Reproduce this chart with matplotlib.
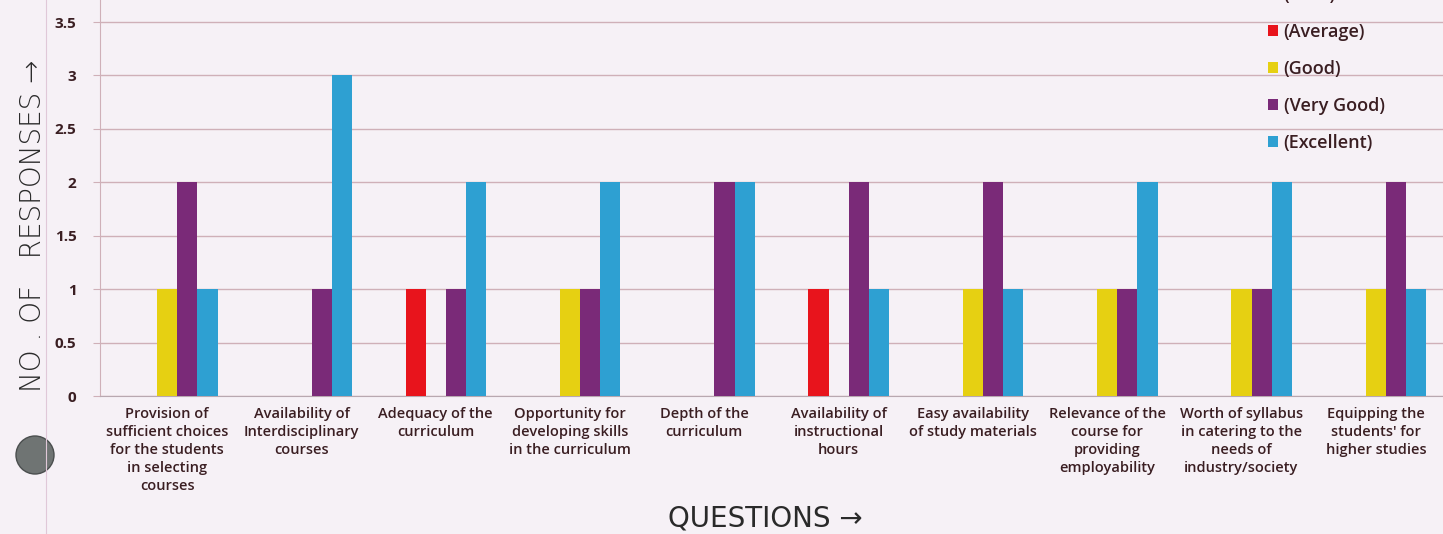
import numpy as np
import matplotlib.pyplot as plt
from matplotlib.patches import Ellipse
from matplotlib.lines import Line2D

questions = [
    'Provision of\nsufficient choices\nfor the students\nin selecting\ncourses',
    'Availability of\nInterdisciplinary\ncourses',
    'Adequacy of the\ncurriculum',
    'Opportunity for\ndeveloping skills\nin the curriculum',
    'Depth of the\ncurriculum',
    'Availability of\ninstructional\nhours',
    'Easy availability\nof study materials',
    'Relevance of the\ncourse for\nproviding\nemployability',
    'Worth of syllabus\nin catering to the\nneeds of\nindustry/society',
    'Equipping the\nstudents\' for\nhigher studies',
]
series = ['(Poor)', '(Average)', '(Good)', '(Very Good)', '(Excellent)']
poor = [0, 0, 0, 0, 0, 0, 0, 0, 0, 0]
average = [0, 0, 1, 0, 0, 1, 0, 0, 0, 0]
good = [1, 0, 0, 1, 0, 0, 1, 1, 1, 1]
very_good = [2, 1, 1, 1, 2, 2, 2, 1, 1, 2]
excellent = [1, 3, 2, 2, 2, 1, 1, 2, 2, 1]
yticks = [0, 0.5, 1, 1.5, 2, 2.5, 3, 3.5]

colors = ['#2a62b8', '#e8141c', '#e6d012', '#7a2a78', '#2ea0d2']
paper = '#f6f1f6'
grid_col = '#cfb0b8'
text_col = '#3a1e22'

plt.rcParams['font.family'] = ['Open Sans', 'DejaVu Sans']

fig = plt.figure(figsize=(14.43, 5.34), dpi=100)
fig.patch.set_facecolor(paper)
W, H = 1443, 534
ax = fig.add_axes([100 / W, (H - 396) / H, 1343 / W, 396 / H])
ax.set_facecolor(paper)

x = np.arange(len(questions))
bw = 0.15
values = [poor, average, good, very_good, excellent]
for i, (name, vals) in enumerate(zip(series, values)):
    ax.bar(x + (i - 2) * bw, vals, bw, color=colors[i], label=name, zorder=3)

ax.set_xlim(-0.5, len(questions) - 0.5)
ax.set_ylim(0, 3.5 * 396 / 374)
ax.set_yticks(yticks)
ax.set_yticklabels(['0', '0.5', '1', '1.5', '2', '2.5', '3', '3.5'],
                   fontsize=11, color=text_col, fontweight='bold')
ax.yaxis.grid(True, color=grid_col, linewidth=1, zorder=0)
ax.tick_params(axis='y', length=5, color=grid_col, pad=12)
ax.set_xticks(x)
ax.set_xticklabels(questions, fontsize=10.5, color=text_col, linespacing=1.35,
                   fontweight='semibold')
ax.tick_params(axis='x', length=0, pad=8)
for s in ['top', 'right']:
    ax.spines[s].set_visible(False)
ax.spines['left'].set_color(grid_col)
ax.spines['bottom'].set_color('#b8a8b0')

# legend partly cut off at top, as in the scan
leg = ax.legend(loc='upper left', bbox_to_anchor=(1252 / W, 1 + 30 / H),
                bbox_transform=fig.transFigure, frameon=False,
                prop={'size': 13, 'weight': 'semibold'},
                labelspacing=1.05, handlelength=0.55, handleheight=0.55,
                handletextpad=0.3, labelcolor=text_col)

# hand-written axis titles
fig.text(33 / W, 1 - 226 / H, 'NO . OF   RESPONSES \u2192', rotation=90,
         ha='center', va='center', fontsize=20, color='#2a2a2a',
         family='DejaVu Sans', fontweight='light')
fig.text(765 / W, 1 - 519 / H, 'QUESTIONS \u2192', ha='center', va='center',
         fontsize=20, color='#2a2a2a', family='DejaVu Sans')

# page margin and punch hole
fig.add_artist(Line2D([46 / W, 46 / W], [0, 1], color='#e0c8d8', linewidth=0.8))
fig.add_artist(Ellipse((35 / W, 1 - 455 / H), 38 / W, 38 / H,
                       transform=fig.transFigure,
                       facecolor='#6f7473', edgecolor='#4a4e4e'))

fig.savefig('out.png', dpi=100, facecolor=paper)
